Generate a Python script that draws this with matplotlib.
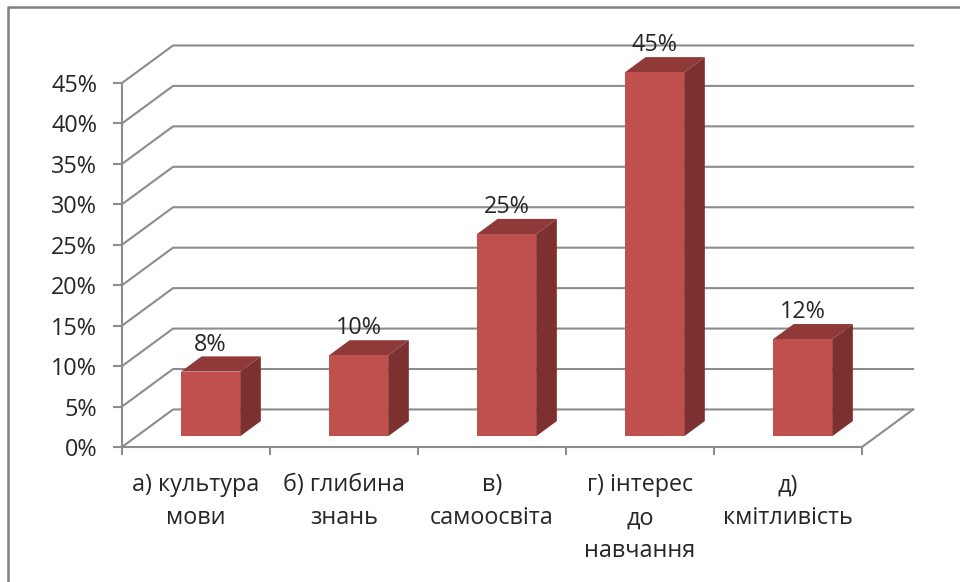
import matplotlib
matplotlib.use('Agg')
import numpy as np
import matplotlib.pyplot as plt
from matplotlib.lines import Line2D
from matplotlib.patches import Polygon

categories = ['а) культура\nмови', 'б) глибина\nзнань', 'в)\nсамоосвіта',
              'г) інтерес\nдо\nнавчання', 'д)\nкмітливість']
values = [8, 10, 25, 45, 12]
y_ticks = [0, 5, 10, 15, 20, 25, 30, 35, 40, 45]

plt.rcParams['font.family'] = ['Open Sans', 'DejaVu Sans']

grey = '#8c8c8c'
txt = '#262626'
fs = 16.8

fig = plt.figure(figsize=(9.6, 5.82), dpi=100, facecolor='white')
ax = fig.add_axes([122 / 960, (582 - 447) / 582, 740 / 960, 364 / 582])
ax.set_xlim(0, 5)
ax.set_ylim(0, 45)
ax.patch.set_alpha(0)

# depth of the fake 3d box, in data units
dx = 0.345
dy = 4.64

for v in y_ticks:
    ax.plot([0, dx, 5 + dx], [v, v + dy, v + dy], color=grey, lw=1.5, clip_on=False, zorder=1)
ax.plot([5, 5 + dx], [0, dy], color=grey, lw=1.5, clip_on=False, zorder=1)

# bars sit partway into the depth
d0 = 0.285
d1 = 0.69
w = 0.40
for i, v in enumerate(values):
    x0 = i + 0.5 - w / 2 + d0 * dx
    x1 = x0 + w
    y0 = d0 * dy
    y1 = y0 + v
    ddx = (d1 - d0) * dx
    ddy = (d1 - d0) * dy
    ax.add_patch(Polygon([(x1, y0), (x1 + ddx, y0 + ddy), (x1 + ddx, y1 + ddy), (x1, y1)],
                         facecolor='#7c3130', edgecolor='none', clip_on=False, zorder=3))
    ax.add_patch(Polygon([(x0, y1), (x1, y1), (x1 + ddx, y1 + ddy), (x0 + ddx, y1 + ddy)],
                         facecolor='#8f3a38', edgecolor='none', clip_on=False, zorder=3))
    ax.add_patch(Polygon([(x0, y0), (x1, y0), (x1, y1), (x0, y1)],
                         facecolor='#c0504d', edgecolor='none', clip_on=False, zorder=4))
    ax.annotate(f'{v}%', (x0 + w / 2, y1), xytext=(0, 19.5), textcoords='offset points',
                ha='center', va='center', fontsize=fs, color=txt, zorder=5, annotation_clip=False)

for s in ['top', 'right']:
    ax.spines[s].set_visible(False)
for s in ['left', 'bottom']:
    ax.spines[s].set_color(grey)
    ax.spines[s].set_linewidth(1.5)
    ax.spines[s].set_zorder(2)

ax.set_yticks(y_ticks)
ax.set_yticklabels([f'{v}%' for v in y_ticks], fontsize=fs, color=txt)
ax.tick_params(axis='y', length=6.5, width=1.5, color=grey, pad=11.5)

# ticks on the category edges, labels in the middle
ax.set_xticks(np.arange(6))
ax.set_xticklabels([])
ax.tick_params(axis='x', which='major', length=6, width=1.5, color=grey)
ax.set_xticks(np.arange(5) + 0.5, minor=True)
ax.set_xticklabels(categories, minor=True, fontsize=fs, color=txt, linespacing=1.49)
ax.tick_params(axis='x', which='minor', length=0, pad=19)

# frame of the pasted picture, only top and left show
fig.add_artist(Line2D([8 / 960, 8 / 960, 1], [0, (582 - 7) / 582, (582 - 7) / 582],
                      color='#808080', lw=1.8, transform=fig.transFigure))

fig.savefig('out.png', dpi=100)
